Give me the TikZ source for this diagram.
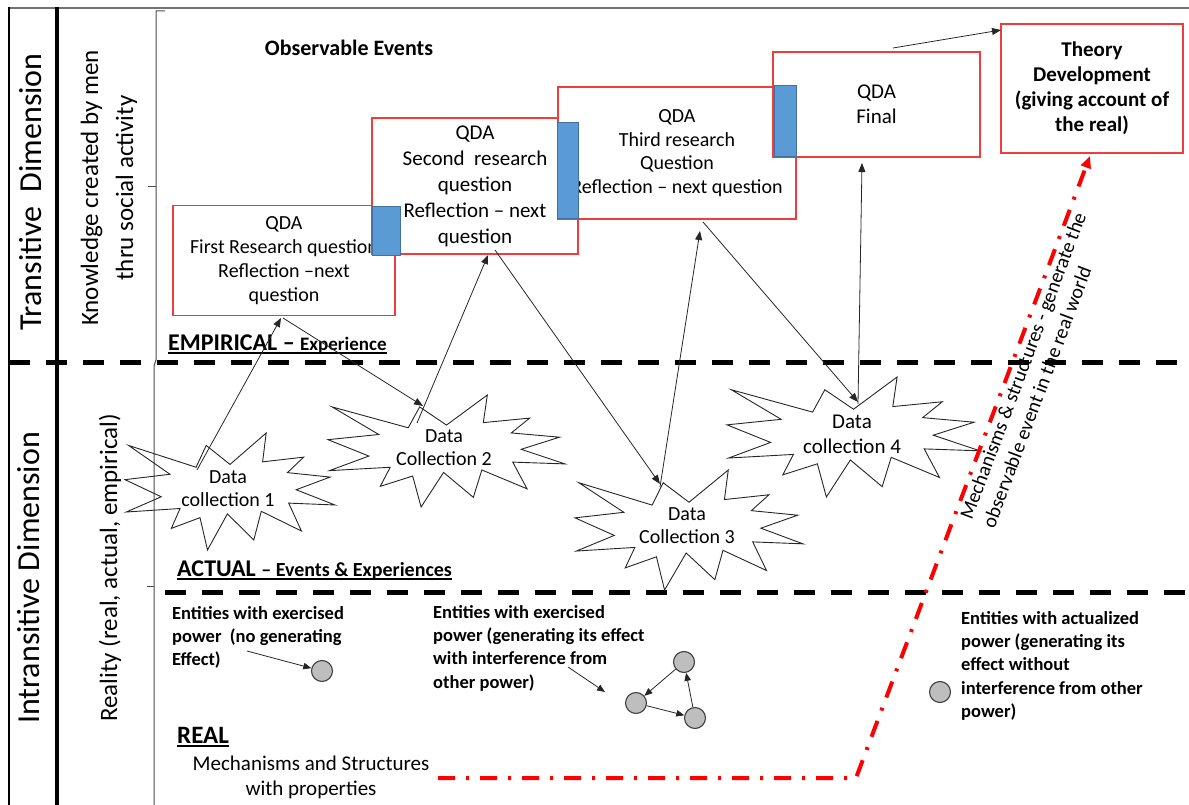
\documentclass[tikz,border=0pt]{standalone}
\usepackage{fontspec}
\setmainfont{Carlito}
\usetikzlibrary{arrows.meta}
\definecolor{boxred}{RGB}{240,60,60}
\definecolor{tabblue}{RGB}{91,155,213}
\definecolor{tabedge}{RGB}{65,113,156}
\definecolor{dotgray}{RGB}{190,190,190}
\definecolor{pathred}{RGB}{255,0,0}
\newcommand\fsz[2]{\fontsize{#1}{#2}\selectfont}
% explosion outline fitted to the box with top-left corner (#1,#2), width #3, height #4
\newcommand\burstat[4]{%
  \draw[burstline,shift={(#1,#2)},xscale=#3,yscale=#4]
     (0.5,0.2685) -- (0.6723,0) -- (0.6553,0.2465) -- (0.8509,0.2063)
     -- (0.7733,0.3387) -- (0.9767,0.3767) -- (0.8151,0.4850) -- (1,0.6153) -- (0.7795,0.5992)
     -- (0.8400,0.8377) -- (0.6491,0.6693) -- (0.6133,0.9138) -- (0.4876,0.6914) -- (0.3928,1)
     -- (0.3572,0.7235) -- (0.2205,0.8156) -- (0.2624,0.6452) -- (0.00625,0.6753) -- (0.1723,0.5451)
     -- (0,0.3988) -- (0.2142,0.3526) -- (0.0171,0.1063) -- (0.3385,0.2926) -- (0.3867,0.1063) -- cycle;}
\tikzset{burstline/.style={draw=black!85,line width=0.9pt,line join=miter}}
\begin{document}
\begin{tikzpicture}[x=1pt,y=-1pt,
  qdabox/.style={draw=boxred,line width=1.3pt,fill=white,inner sep=0pt,align=center},
  tab/.style={draw=tabedge,fill=tabblue,line width=0.8pt},
  flow/.style={draw=black!85,line width=0.8pt,-{Triangle[length=9pt,width=7pt]}},
  smallflow/.style={draw=black!85,line width=0.8pt,-{Triangle[length=8pt,width=6.5pt]}},
  level/.style={draw=black,line width=5pt,dash pattern=on 21pt off 16pt},
  ball/.style={circle,draw=black!75,fill=dotgray,line width=1.1pt,minimum size=21pt,inner sep=0pt},
  note/.style={inner sep=0pt,align=left,font=\bfseries\fsz{18.5}{23.3}},
  dctext/.style={inner sep=0pt,align=center,font=\fsz{20}{23}},
  side/.style={inner sep=0pt,rotate=90,align=center}
]
\useasboundingbox (0,0) rectangle (1189,805);

% outer frame and column rules
\draw[black!55,line width=1.5pt] (9,8) -- (1189,8);
\draw[black,line width=2pt] (9,7.25) -- (9,805);
\draw[black,line width=4pt] (57,7.25) -- (57,805);
\draw[black!70,line width=1pt] (165,11) -- (156,11) -- (156,360) -- (154,366) -- (154,805);
\draw[black!70,line width=1pt] (148,187) -- (156,187) (147,586) -- (154,586);

% level separators
\draw[level] (9,362) -- (1189,362);
\draw[level] (165,592) -- (1189,592);

% side labels
\node[side,font=\fsz{32}{38}] (transdim) at (31,192) {Transitive\ \ Dimension};
\node[side,font=\fsz{32}{38}] (intransdim) at (29,578) {Intransitive Dimension};
\node[side,font=\fsz{25}{35}] (knowledge) at (109,188) {Knowledge created by men\\thru social activity};
\node[side,font=\fsz{25}{30}] (reality) at (110,568) {Reality (real, actual, empirical)};

\node[inner sep=0pt,font=\bfseries\fsz{22}{26}] (observable) at (349,48) {Observable Events};

% level names
\node[anchor=base west,inner sep=0pt] (empirical) at (168,350)
  {\bfseries\fsz{24}{28}EMPIRICAL – {\fsz{19}{22}Experience}};
\draw[line width=1.2pt] ([yshift=-3pt]empirical.base west) -- ([yshift=-3pt]empirical.base east);
\node[anchor=base west,inner sep=0pt] (actual) at (177,576)
  {\bfseries\fsz{24}{28}ACTUAL {\fsz{20}{23}– Events \& Experiences}};
\draw[line width=1.2pt] ([yshift=-3pt]actual.base west) -- ([yshift=-3pt]actual.base east);
\node[anchor=base west,inner sep=0pt] (real) at (177,743) {\bfseries\fsz{25}{30}REAL};
\draw[line width=1.2pt] ([yshift=-3pt]real.base west) -- ([yshift=-3pt]real.base east);

% analysis boxes
\node[qdabox,minimum width=222pt,minimum height=110pt,font=\fsz{20}{24}] (q1) at (284,260.5)
  {QDA\\First Research question\\Reflection –next\\question};
\node[qdabox,minimum width=206pt,minimum height=136pt,font=\fsz{21}{26}] (q2) at (475,186)
  {QDA\\Second\ \ research\\question\\Reflection – next\\question};
\node[qdabox,minimum width=238pt,minimum height=132pt,font=\fsz{20}{23.7}] (q3) at (677,153)
  {QDA\\Third research\\Question\\Reflection – next question};
\node[qdabox,minimum width=207pt,minimum height=105pt,font=\fsz{21}{25}] (q4) at (876.5,104.5)
  {QDA\\Final};
\node[qdabox,minimum width=182pt,minimum height=129pt,font=\bfseries\fsz{21}{25}] (q5) at (1092,88.5)
  {Theory\\Development\\(giving account of\\the real)};

% connector tabs
\draw[tab] (372,206) rectangle (400,255);
\draw[tab] (557,122) rectangle (578,218);
\draw[tab] (774,85) rectangle (796,156);

% data collection bursts
\burstat{125}{433}{210}{117}
\burstat{328}{395}{237}{112}
\burstat{575}{470}{228}{120}
\burstat{727}{377}{253}{120}
\node[dctext] (dc1) at (228,489) {Data\\collection 1};
\node[dctext] (dc2) at (444,448) {Data\\Collection 2};
\node[dctext] (dc3) at (687,526) {Data\\Collection 3};
\node[dctext,font=\fsz{21}{25}] (dc4) at (852,434) {Data\\collection 4};

% connector end points
\coordinate (dc1top) at (197,470);
\coordinate (q1foot) at (281,318);
\coordinate (q1foot2) at (283,318);
\coordinate (dc2tip) at (423,406);
\coordinate (dc2top) at (417,423);
\coordinate (q2foot) at (488,255);
\coordinate (q2foot2) at (495,250);
\coordinate (dc3tip) at (660,484);
\coordinate (dc3top) at (660,487);
\coordinate (q3foot) at (700,231);
\coordinate (q3foot2) at (703,222);
\coordinate (dc4tip) at (858,402);
\coordinate (dc4top) at (858,404);
\coordinate (q4foot) at (862,163);
\coordinate (q4top) at (893,48);
\coordinate (q5side) at (1001,30);

\draw[flow] (dc1top) -- (q1foot);
\draw[flow] (q1foot2) -- (dc2tip);
\draw[flow] (dc2top) -- (q2foot);
\draw[flow] (q2foot2) -- (dc3tip);
\draw[flow] (dc3top) -- (q3foot);
\draw[flow] (q3foot2) -- (dc4tip);
\draw[flow] (dc4top) -- (q4foot);
\draw[flow] (q4top) -- (q5side);

% real domain: entities and powers
\node[note,anchor=north west] (ent1) at (172,606)
  {Entities with exercised\\power\ \ (no generating\\Effect)};
\node[note,anchor=north west] (ent2) at (433,605)
  {Entities with exercised\\power (generating its effect\\with interference from\\other power)};
\node[note,anchor=north west] (ent3) at (961,611)
  {Entities with actualized\\power (generating its\\effect without\\interference from other\\power)};

\node[ball] (b1) at (322,671) {};
\node[ball] (b2) at (684,662) {};
\node[ball] (b3) at (636,703) {};
\node[ball] (b4) at (695,718) {};
\node[ball] (b5) at (940,692) {};

\coordinate (ent1tail) at (247,651);
\coordinate (ent2tail) at (568,667);
\coordinate (ent2head) at (605,692);
\draw[smallflow] (ent1tail) -- (b1);
\draw[smallflow] (ent2tail) -- (ent2head);
\draw[smallflow] (b2) -- (b3);
\draw[smallflow] (b3) -- (b4);
\draw[smallflow] (b4) -- (b2);

\node[inner sep=0pt,align=center,font=\fsz{21}{25}] (mech) at (311,777)
  {Mechanisms and Structures\\with properties};

% generative path from the real to theory
\coordinate (r0) at (438,778);
\coordinate (r1) at (856,778);
\coordinate (q5foot) at (1090,156);
\draw[pathred,line width=4pt,dash pattern=on 17pt off 11pt on 3pt off 11pt,
      -{Triangle[length=12pt,width=10pt]}] (r0) -- (r1) -- (q5foot);
\node[inner sep=0pt,rotate=69.4,align=left,font=\fsz{20}{24}] (generate) at (1034,370)
  {Mechanisms \& structures - generate the\\observable event in the real world};
\end{tikzpicture}
\end{document}
